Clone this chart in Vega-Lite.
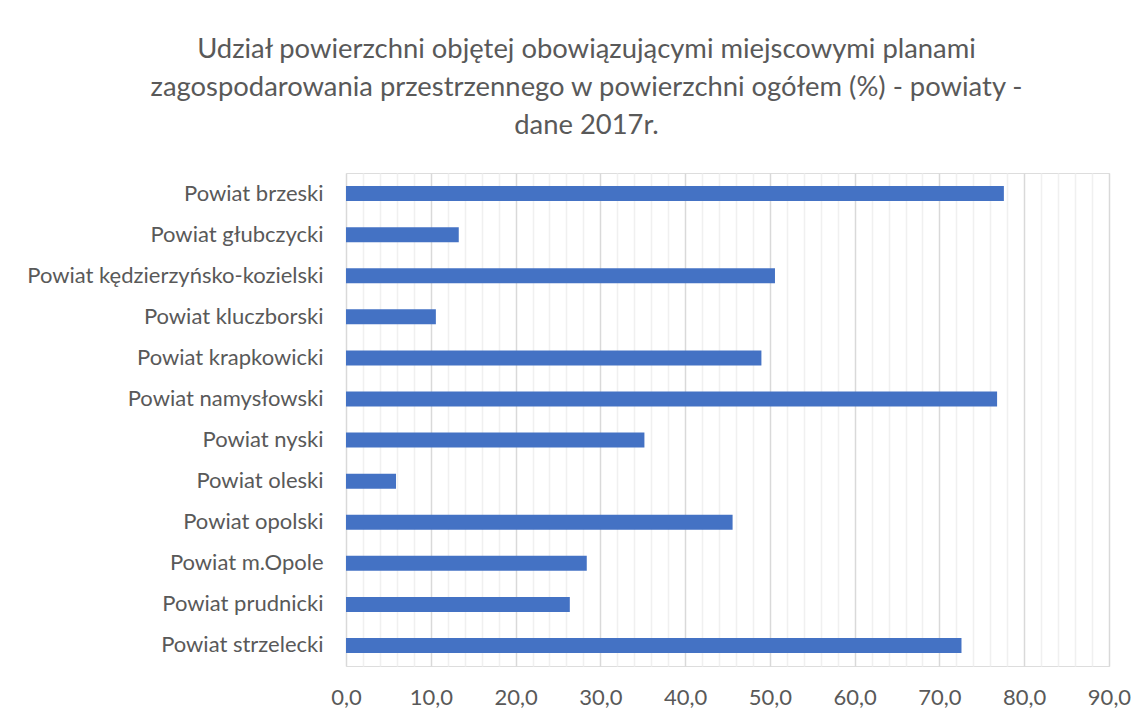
{
  "$schema": "https://vega.github.io/schema/vega-lite/v6.json",
  "autosize": "none",
  "padding": {"left": 346, "top": 173, "right": 37, "bottom": 53},
  "width": 763,
  "height": 493,
  "background": "white",
  "title": {
    "text": ["Udział powierzchni objętej obowiązującymi miejscowymi planami", "zagospodarowania przestrzennego w powierzchni ogółem (%) - powiaty -", "dane 2017r."],
    "font": "Lato",
    "fontSize": 27.4,
    "fontWeight": "normal",
    "color": "#595959",
    "anchor": "middle",
    "dx": -141,
    "lineHeight": 38,
    "offset": 34
  },
  "data": {
    "values": [
      {"powiat": "Powiat brzeski", "udzial": 77.6},
      {"powiat": "Powiat głubczycki", "udzial": 13.3},
      {"powiat": "Powiat kędzierzyńsko-kozielski", "udzial": 50.6},
      {"powiat": "Powiat kluczborski", "udzial": 10.6},
      {"powiat": "Powiat krapkowicki", "udzial": 49.0},
      {"powiat": "Powiat namysłowski", "udzial": 76.8},
      {"powiat": "Powiat nyski", "udzial": 35.2},
      {"powiat": "Powiat oleski", "udzial": 5.9},
      {"powiat": "Powiat opolski", "udzial": 45.6},
      {"powiat": "Powiat m.Opole", "udzial": 28.4},
      {"powiat": "Powiat prudnicki", "udzial": 26.4},
      {"powiat": "Powiat strzelecki", "udzial": 72.6}
    ]
  },
  "mark": {"type": "bar", "color": "#4472C4", "size": 15},
  "encoding": {
    "y": {
      "field": "powiat",
      "type": "nominal",
      "sort": null,
      "title": null,
      "scale": {"paddingInner": 0.5, "paddingOuter": 0.25},
      "axis": {"ticks": false, "domain": false, "grid": false, "labelFont": "Lato", "labelFontSize": 22, "labelColor": "#595959", "labelPadding": 23, "labelLimit": 400}
    },
    "x": {
      "field": "udzial",
      "type": "quantitative",
      "title": null,
      "scale": {"domain": [0, 90], "nice": false},
      "axis": {
        "values": [0,2,4,6,8,10,12,14,16,18,20,22,24,26,28,30,32,34,36,38,40,42,44,46,48,50,52,54,56,58,60,62,64,66,68,70,72,74,76,78,80,82,84,86,88,90],
        "labelExpr": "datum.value % 10 === 0 ? replace(format(datum.value, '.1f'), '.', ',') : ''",
        "labelOverlap": false,
        "labelBound": false,
        "labelFlush": false,
        "ticks": false,
        "domain": false,
        "gridColor": {"condition": {"test": "datum.value % 10 === 0", "value": "#d9d9d9"}, "value": "#f0f0f0"},
        "gridWidth": 1.5,
        "labelFont": "Lato",
        "labelFontSize": 22,
        "labelColor": "#595959",
        "labelPadding": 21
      }
    }
  }
}
